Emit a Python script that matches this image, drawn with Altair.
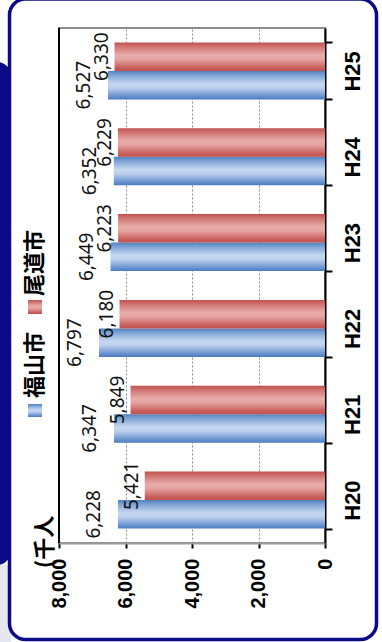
import altair as alt
import pandas as pd

# Population (thousands) by fiscal year
YEARS = ["H20", "H21", "H22", "H23", "H24", "H25"]
SERIES = ["福山市", "尾道市"]
FUKUYAMA = [6228, 6347, 6797, 6449, 6352, 6527]
ONOMICHI = [5421, 5849, 6180, 6223, 6229, 6330]
VALUE_TICKS = [0, 2000, 4000, 6000, 8000]
UNIT_LABEL = "(千人"

NAVY = "#0b0b8a"
AXIS_FONT = "Liberation Sans, sans-serif"
NUM_FONT = "Noto Sans, DejaVu Sans, sans-serif"
CJK_FONT = "Noto Sans CJK JP, sans-serif"

BLUE_STOPS = [(0, "#4f81bd"), (0.15, "#7ea3d6"), (0.45, "#c6d7f0"),
              (0.6, "#bccfec"), (0.88, "#6a94d0"), (1, "#4a7bbf")]
RED_STOPS = [(0, "#c0504d"), (0.15, "#cf7472"), (0.45, "#e8adab"),
             (0.6, "#e3a19f"), (0.88, "#c9615e"), (1, "#c0504d")]


def grad(stops):
    return alt.LinearGradient(
        gradient="linear",
        stops=[alt.GradientStop(color=c, offset=o) for o, c in stops],
        x1=0, x2=0, y1=0, y2=1,
    )


rows = []
for year, a, b in zip(YEARS, FUKUYAMA, ONOMICHI):
    rows.append({"year": year, "city": SERIES[0], "value": a})
    rows.append({"year": year, "city": SERIES[1], "value": b})
df = pd.DataFrame(rows)

x_enc = alt.X(
    "value:Q",
    scale=alt.Scale(domain=[VALUE_TICKS[0], VALUE_TICKS[-1]], reverse=True, nice=False),
    axis=alt.Axis(
        orient="bottom", values=VALUE_TICKS, format=",d", title=None,
        labelAngle=270, labelAlign="right", labelBaseline="middle",
        labelFont=AXIS_FONT, labelFontSize=20, labelFontWeight="bold",
        labelColor="black", labelPadding=10, labelOverlap=False,
        labelFlush=False, labelBound=False,
        tickColor="black", tickSize=5, tickWidth=2,
        domainColor="#9a9a9a", domainWidth=2,
        grid=True, gridColor="#8c8c8c", gridDash=[2, 2], gridWidth=1,
    ),
)
y_enc = alt.Y(
    "year:N",
    sort=list(reversed(YEARS)),
    scale=alt.Scale(paddingInner=0.336, paddingOuter=0.168),
    axis=alt.Axis(
        orient="right", title=None,
        labelAngle=270, labelAlign="center", labelBaseline="top",
        labelFont=AXIS_FONT, labelFontSize=22, labelFontWeight="bold",
        labelColor="black", labelPadding=10, labelOverlap=False,
        tickBand="extent", tickColor="black", tickSize=7, tickWidth=2,
        domainColor="black", domainWidth=2, grid=False,
    ),
)
y_off = alt.YOffset(
    "city:N",
    scale=alt.Scale(domain=list(reversed(SERIES)), paddingInner=0, paddingOuter=0),
)

base = alt.Chart(df)
blue = base.transform_filter(alt.datum.city == SERIES[0])
red = base.transform_filter(alt.datum.city == SERIES[1])

bars_blue = blue.mark_bar(color=grad(BLUE_STOPS)).encode(x=x_enc, y=y_enc, yOffset=y_off)
bars_red = red.mark_bar(color=grad(RED_STOPS)).encode(x=x_enc, y=y_enc, yOffset=y_off)

label_style = dict(angle=270, align="center", baseline="bottom",
                   font=NUM_FONT, fontSize=19, color="#111111")
labels_blue = blue.mark_text(dy=-14, **label_style).encode(
    x=x_enc, y=y_enc, yOffset=y_off, text=alt.Text("value:Q", format=","))
labels_red = red.mark_text(dy=-3, **label_style).encode(
    x=x_enc, y=y_enc, yOffset=y_off, text=alt.Text("value:Q", format=","))

# black edge along the top of the value range
edge = alt.Chart(pd.DataFrame({"value": [VALUE_TICKS[-1]]})).mark_rule(
    color="black", strokeWidth=2).encode(x=x_enc)

one = pd.DataFrame({"k": [0]})

# page decoration: navy side strip and rounded frame
strip = alt.Chart(one).mark_rect(color=NAVY, cornerRadius=14).encode(
    x=alt.value(-80), x2=alt.value(-48), y=alt.value(34), y2=alt.value(537))
strip_low = alt.Chart(one).mark_rect(color="#e6e8ef").encode(
    x=alt.value(-80), x2=alt.value(-48), y=alt.value(537), y2=alt.value(620))
frame = alt.Chart(one).mark_rect(
    filled=False, stroke=NAVY, strokeWidth=3.5, cornerRadius=16).encode(
    x=alt.value(-49.5), x2=alt.value(317.5), y=alt.value(-29), y2=alt.value(611.5))

# legend drawn along the left side
leg_blue_box = alt.Chart(one).mark_rect(color=grad(BLUE_STOPS)).encode(
    x=alt.value(-31), x2=alt.value(-17), y=alt.value(376), y2=alt.value(389))
leg_red_box = alt.Chart(one).mark_rect(color=grad(RED_STOPS)).encode(
    x=alt.value(-31), x2=alt.value(-17), y=alt.value(272), y2=alt.value(286))
leg_style = dict(angle=270, align="center", baseline="middle",
                 font=CJK_FONT, fontSize=22, fontWeight="bold", color="black")
leg_blue_txt = alt.Chart(one).mark_text(**leg_style).encode(
    x=alt.value(-24), y=alt.value(337), text=alt.value(SERIES[0]))
leg_red_txt = alt.Chart(one).mark_text(**leg_style).encode(
    x=alt.value(-24), y=alt.value(235), text=alt.value(SERIES[1]))

unit = alt.Chart(one).mark_text(
    angle=270, align="center", baseline="middle", font=CJK_FONT,
    fontSize=22, fontWeight="bold", color="black").encode(
    x=alt.value(-14), y=alt.value(514), text=alt.value(UNIT_LABEL))

chart = alt.layer(
    strip, strip_low, frame,
    bars_blue, bars_red, edge,
    labels_blue, labels_red,
    leg_blue_box, leg_red_box, leg_blue_txt, leg_red_txt, unit,
).properties(
    width=266, height=515,
    padding={"left": 59, "top": 28, "right": 57, "bottom": 99},
    autosize=alt.AutoSizeParams(type="none"),
    background="white",
).configure_view(stroke="#8c8c8c", strokeWidth=2)

chart.save("out.html", embed_options={"renderer": "svg", "actions": False})
